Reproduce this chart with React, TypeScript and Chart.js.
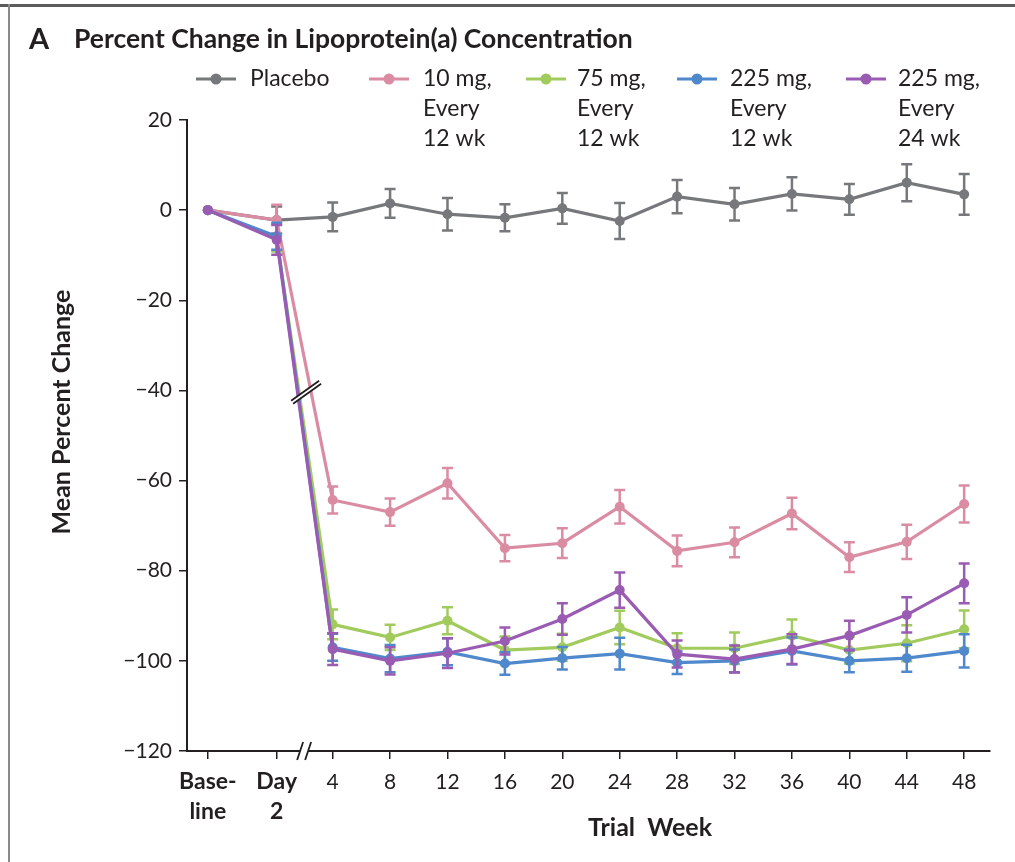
import React, { useEffect, useRef } from "react";
import { Chart, registerables } from "chart.js";

Chart.register(...registerables);

const FONT = "Lato, 'Open Sans', 'DejaVu Sans', sans-serif";
const INK = "#231f20";

// Visit positions on the week axis (baseline and day 2 sit before the break)
const VISIT_POS = [-4.7, 0.1, 4, 8, 12, 16, 20, 24, 28, 32, 36, 40, 44, 48];
const VISIT_LABELS: (string | string[])[] = [
  ["Base-", "line"],
  ["Day", "2"],
  "4", "8", "12", "16", "20", "24", "28", "32", "36", "40", "44", "48",
];
const Y_TICKS = [-120, -100, -80, -60, -40, -20, 0, 20];

// Mean percent change and error half-widths per group
const PLACEBO = [0, -2.2, -1.5, 1.5, -0.9, -1.7, 0.4, -2.4, 3.0, 1.3, 3.6, 2.4, 6.1, 3.5];
const PLACEBO_ERR = [0, 3.0, 3.2, 3.2, 3.6, 3.0, 3.4, 4.0, 3.7, 3.6, 3.7, 3.4, 4.1, 4.5];
const MG10_Q12 = [0, -2.2, -64.3, -67.0, -60.6, -75.0, -73.9, -65.8, -75.6, -73.7, -67.3, -77.0, -73.6, -65.2];
const MG10_Q12_ERR = [0, 3.4, 3.0, 3.0, 3.4, 2.9, 3.3, 3.7, 3.4, 3.3, 3.5, 3.3, 3.8, 4.1];
const MG75_Q12 = [0, -6.2, -91.9, -94.8, -91.1, -97.6, -97.0, -92.6, -97.2, -97.2, -94.4, -97.6, -96.1, -93.0];
const MG75_Q12_ERR = [0, 3.0, 3.3, 2.8, 3.0, 3.0, 3.0, 3.7, 3.3, 3.5, 3.6, 3.0, 4.0, 4.2];
const MG225_Q12 = [0, -5.8, -97.0, -99.5, -98.0, -100.6, -99.4, -98.4, -100.4, -100.0, -97.8, -100.0, -99.4, -97.8];
const MG225_Q12_ERR = [0, 3.0, 3.0, 3.0, 3.0, 2.5, 2.5, 3.5, 2.5, 2.5, 3.0, 2.5, 3.0, 3.7];
const MG225_Q24 = [0, -6.6, -97.4, -100.0, -98.3, -95.6, -90.7, -84.3, -98.5, -99.6, -97.4, -94.4, -89.8, -82.8];
const MG225_Q24_ERR = [0, 3.3, 3.5, 3.0, 3.3, 3.0, 3.5, 3.9, 3.0, 3.0, 3.3, 3.3, 3.9, 4.4];

const GROUP_LABELS: string[][] = [
  ["Placebo"],
  ["10 mg,", "Every", "12 wk"],
  ["75 mg,", "Every", "12 wk"],
  ["225 mg,", "Every", "12 wk"],
  ["225 mg,", "Every", "24 wk"],
];
const GROUP_COLORS = ["#76787b", "#d98ca2", "#a2cb5e", "#4f89cc", "#9a5bb3"];
const GROUP_VALUES = [PLACEBO, MG10_Q12, MG75_Q12, MG225_Q12, MG225_Q24];
const GROUP_ERRORS = [PLACEBO_ERR, MG10_Q12_ERR, MG75_Q12_ERR, MG225_Q12_ERR, MG225_Q24_ERR];
// later groups are painted above earlier ones
const GROUP_ORDER = [4, 3, 2, 1, 0];

// Legend placement (marker centre x, text x) and row geometry
const LEGEND_MARK_X = [216, 389, 546, 697, 866];
const LEGEND_TEXT_X = [250, 423, 577, 730, 898];
const LEGEND_ROW_Y = 79;
const LEGEND_LINE_H = 30;

// Where the axis break sits (week-axis units) and where the lines are cut
const BREAK_X = 2.15;
const BREAK_Y = -40.3;

const decorPlugin = {
  id: "decor",
  afterDatasetDraw(chart: any, args: any) {
    const i = args.index;
    const errs = GROUP_ERRORS[i];
    const vals = GROUP_VALUES[i];
    const xs = chart.scales.x;
    const ys = chart.scales.y;
    const ctx = chart.ctx;
    ctx.save();
    ctx.strokeStyle = GROUP_COLORS[i];
    ctx.lineWidth = 2.5;
    ctx.lineCap = "butt";
    for (let k = 0; k < vals.length; k++) {
      const e = errs[k];
      if (!e) continue;
      const px = xs.getPixelForValue(VISIT_POS[k]);
      const top = ys.getPixelForValue(vals[k] + e);
      const bot = ys.getPixelForValue(vals[k] - e);
      ctx.beginPath();
      ctx.moveTo(px, top);
      ctx.lineTo(px, bot);
      ctx.moveTo(px - 5.5, top);
      ctx.lineTo(px + 5.5, top);
      ctx.moveTo(px - 5.5, bot);
      ctx.lineTo(px + 5.5, bot);
      ctx.stroke();
    }
    ctx.restore();
  },
  afterDraw(chart: any) {
    const ctx = chart.ctx;
    const xs = chart.scales.x;
    const ys = chart.scales.y;
    const area = chart.chartArea;
    ctx.save();

    // figure frame
    ctx.fillStyle = "#5c5c5c";
    ctx.fillRect(0, 4, chart.width, 3);
    ctx.fillStyle = "#8a8a8a";
    ctx.fillRect(8, 4, 2, chart.height - 4);

    // panel title
    ctx.fillStyle = INK;
    ctx.textBaseline = "alphabetic";
    ctx.textAlign = "left";
    ctx.font = `bold 29px ${FONT}`;
    ctx.fillText("A", 29, 49);
    ctx.font = `bold 26.5px ${FONT}`;
    ctx.fillText("Percent Change in Lipoprotein(a) Concentration", 74, 48);

    // legend
    ctx.textBaseline = "middle";
    ctx.font = `23px ${FONT}`;
    for (let i = 0; i < GROUP_LABELS.length; i++) {
      const cx = LEGEND_MARK_X[i];
      ctx.strokeStyle = GROUP_COLORS[i];
      ctx.lineWidth = 3;
      ctx.beginPath();
      ctx.moveTo(cx - 20, LEGEND_ROW_Y);
      ctx.lineTo(cx + 20, LEGEND_ROW_Y);
      ctx.stroke();
      ctx.fillStyle = GROUP_COLORS[i];
      ctx.beginPath();
      ctx.arc(cx, LEGEND_ROW_Y, 5.5, 0, Math.PI * 2);
      ctx.fill();
      ctx.fillStyle = INK;
      GROUP_LABELS[i].forEach((line, r) => {
        ctx.fillText(line, LEGEND_TEXT_X[i], LEGEND_ROW_Y + r * LEGEND_LINE_H);
      });
    }

    // axis titles
    ctx.font = `bold 25px ${FONT}`;
    ctx.textAlign = "center";
    ctx.fillText("Trial  Week", 650, 828);
    ctx.save();
    ctx.translate(62, 412);
    ctx.rotate(-Math.PI / 2);
    ctx.fillText("Mean Percent Change", 0, 0);
    ctx.restore();

    // break on the week axis
    const bx = xs.getPixelForValue(BREAK_X);
    const by = area.bottom;
    ctx.fillStyle = "#ffffff";
    ctx.beginPath();
    ctx.moveTo(bx - 9, by + 9);
    ctx.lineTo(bx - 3, by - 9);
    ctx.lineTo(bx + 5, by - 9);
    ctx.lineTo(bx - 1, by + 9);
    ctx.closePath();
    ctx.fill();
    ctx.strokeStyle = INK;
    ctx.lineWidth = 1.8;
    ctx.beginPath();
    ctx.moveTo(bx - 9, by + 9);
    ctx.lineTo(bx - 3, by - 9);
    ctx.moveTo(bx - 1, by + 9);
    ctx.lineTo(bx + 5, by - 9);
    ctx.stroke();

    // break across the falling lines
    const lx = xs.getPixelForValue(BREAK_X);
    const ly = ys.getPixelForValue(BREAK_Y);
    ctx.fillStyle = "#ffffff";
    ctx.beginPath();
    ctx.moveTo(lx - 15, ly + 9);
    ctx.lineTo(lx + 13, ly - 11);
    ctx.lineTo(lx + 15, ly - 8);
    ctx.lineTo(lx - 13, ly + 12);
    ctx.closePath();
    ctx.fill();
    ctx.strokeStyle = INK;
    ctx.lineWidth = 1.8;
    ctx.beginPath();
    ctx.moveTo(lx - 15, ly + 9);
    ctx.lineTo(lx + 13, ly - 11);
    ctx.moveTo(lx - 13, ly + 12);
    ctx.lineTo(lx + 15, ly - 8);
    ctx.stroke();

    ctx.restore();
  },
};

export default function App() {
  const canvasRef = useRef<HTMLCanvasElement | null>(null);

  useEffect(() => {
    const canvas = canvasRef.current;
    if (!canvas) return;

    const datasets = GROUP_VALUES.map((vals, i) => ({
      label: GROUP_LABELS[i].join(" "),
      data: vals.map((v, k) => ({ x: VISIT_POS[k], y: v })),
      borderColor: GROUP_COLORS[i],
      backgroundColor: GROUP_COLORS[i],
      pointBackgroundColor: GROUP_COLORS[i],
      pointBorderWidth: 0,
      pointRadius: 5,
      borderWidth: 3.2,
      tension: 0,
      order: GROUP_ORDER[i],
    }));

    const chart = new Chart(canvas, {
      type: "line",
      data: { datasets },
      options: {
        animation: false,
        responsive: false,
        devicePixelRatio: 1,
        layout: { padding: { top: 120, right: 25, bottom: 0, left: 0 } },
        plugins: {
          legend: { display: false },
          tooltip: { enabled: false },
          title: { display: false },
        },
        scales: {
          x: {
            type: "linear",
            min: -6.15,
            max: 49.8,
            afterFit: (s: any) => {
              s.height = 111;
            },
            afterBuildTicks: (s: any) => {
              s.ticks = VISIT_POS.map((v) => ({ value: v }));
            },
            grid: {
              drawOnChartArea: false,
              drawTicks: true,
              tickLength: 8,
              color: INK,
              lineWidth: 1.5,
            },
            border: { display: true, color: INK, width: 2 },
            ticks: {
              autoSkip: false,
              maxRotation: 0,
              minRotation: 0,
              padding: 8,
              color: INK,
              font: (c: any) => ({
                family: FONT,
                size: c.index < 2 ? 23 : 21,
                lineHeight: c.index < 2 ? 1.3 : 1.43,
                weight: c.index < 2 ? "bold" : "normal",
              }),
              callback: (_v: any, idx: number) => VISIT_LABELS[idx],
            },
          },
          y: {
            type: "linear",
            min: -120,
            max: 20,
            afterFit: (s: any) => {
              s.width = 187;
            },
            afterBuildTicks: (s: any) => {
              s.ticks = Y_TICKS.map((v) => ({ value: v }));
            },
            grid: {
              drawOnChartArea: false,
              drawTicks: true,
              tickLength: 8,
              color: INK,
              lineWidth: 1.5,
            },
            border: { display: true, color: INK, width: 2 },
            ticks: {
              padding: 7,
              color: INK,
              font: { family: FONT, size: 21 },
              callback: (v: any) => (v < 0 ? "\u2212" + Math.abs(v) : String(v)),
            },
          },
        },
      },
      plugins: [decorPlugin],
    });

    return () => chart.destroy();
  }, []);

  return (
    <div
      style={{
        position: "absolute",
        left: 0,
        top: 0,
        width: 1015,
        height: 862,
        background: "#ffffff",
      }}
    >
      <canvas ref={canvasRef} width={1015} height={862} style={{ width: 1015, height: 862 }} />
    </div>
  );
}
